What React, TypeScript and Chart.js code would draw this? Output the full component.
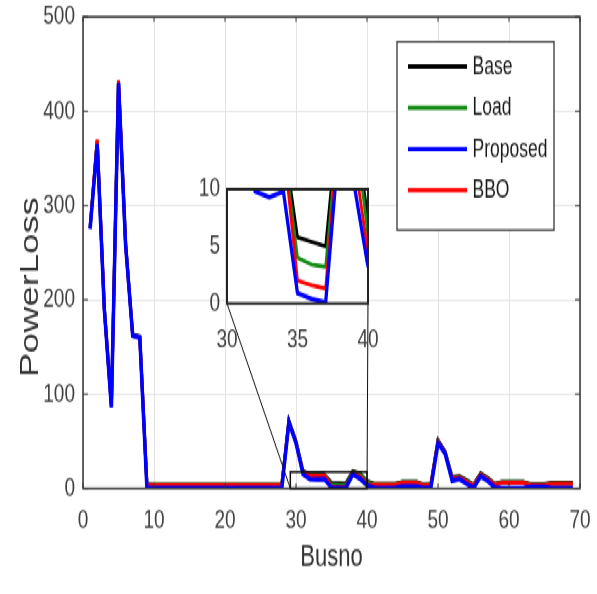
import { useEffect, useRef } from "react";
import { Chart, registerables } from "chart.js";

Chart.register(...registerables);
Chart.defaults.font.family = "'Liberation Sans', Arial, sans-serif";

// ---------------- data ----------------
const buses = [
  1, 2, 3, 4, 5, 6, 7, 8, 9, 10, 11, 12, 13, 14, 15, 16, 17, 18, 19, 20, 21, 22, 23,
  24, 25, 26, 27, 28, 29, 30, 31, 32, 33, 34, 35, 36, 37, 38, 39, 40, 41, 42, 43, 44,
  45, 46, 47, 48, 49, 50, 51, 52, 53, 54, 55, 56, 57, 58, 59, 60, 61, 62, 63, 64, 65,
  66, 67, 68, 69,
];

const baseLoss = [
  277, 369, 192, 88, 432, 260, 163, 161, 4.5,
  4, 4, 4, 4, 4, 4, 4, 4, 4, 4, 4, 4, 4, 4, 4, 4, 4, 4, 4,
  72, 50, 18, 15, 14.5, 14.5, 5.8, 5.4, 5.0, 18, 16, 7.5,
  5, 5, 5, 5, 7, 7, 7, 4, 5,
  51, 39, 12, 13, 9, 4, 16, 11, 5,
  7, 7, 7, 7, 4.5, 4.5, 4.5, 6, 6, 6, 6,
];

const loadLoss = [
  276, 368, 191, 87, 431, 259, 162, 160.5, 4,
  3.8, 3.8, 3.8, 3.8, 3.8, 3.8, 3.8, 3.8, 3.8, 3.8, 3.8, 3.8, 3.8, 3.8, 3.8, 3.8, 3.8, 3.8, 3.8,
  71, 49, 17, 14.5, 14, 14, 4.0, 3.4, 3.2, 17, 16, 6,
  4.5, 4.5, 4.5, 4.5, 6.5, 6.5, 6.5, 3.5, 4.5,
  50, 38, 11, 12, 8, 3.5, 15, 10, 4.5,
  6.5, 6.5, 6.5, 6.5, 4, 4, 4, 5.5, 5.5, 5.5, 5.5,
];

const proposedLoss = [
  275, 365, 190, 86, 430, 258, 162, 160, 0.5,
  0.3, 0.3, 0.3, 0.3, 0.3, 0.3, 0.3, 0.3, 0.3, 0.3, 0.3, 0.3, 0.3, 0.3, 0.3, 0.3, 0.3, 0.3, 0.3,
  70, 48, 15, 9.8, 9.3, 9.8, 0.9, 0.4, 0.1, 15, 10.5, 3.2,
  0.5, 0.3, 0.3, 0.5, 2, 2, 2, 0.2, 1,
  48, 37, 8, 10, 5, 0.3, 13, 8, 1,
  0.3, 0.3, 0.3, 0.3, 1.5, 1.5, 1.5, 0.3, 0.3, 0.3, 0.3,
];

const bboLoss = [
  276, 370, 191, 87, 433, 259, 162, 160, 3.5,
  3.5, 3.5, 3.5, 3.5, 3.5, 3.5, 3.5, 3.5, 3.5, 3.5, 3.5, 3.5, 3.5, 3.5, 3.5, 3.5, 3.5, 3.5, 3.5,
  70.5, 48.5, 16.5, 14, 13.5, 14, 2.0, 1.6, 1.3, 16.5, 13, 4.4,
  4, 4, 4, 4, 6, 6, 6, 3, 4,
  49.5, 37.5, 10.5, 11.5, 7.5, 3, 14.5, 9.5, 4,
  6, 6, 6, 6, 3.5, 3.5, 3.5, 5, 5, 5, 5,
];

const seriesLabels = ["Base", "Load", "Proposed", "BBO"];
const seriesValues = [baseLoss, loadLoss, proposedLoss, bboLoss];
const seriesColors = ["#000000", "#138a13", "#0000ff", "#ff0000"];
const seriesOrder = [3, 2, 0, 1];

const xTitle = "Busno";
const yTitle = "PowerLoss";
const mainXTicks = { min: 0, max: 70, step: 10 };
const mainYTicks = { min: 0, max: 500, step: 100 };
const insetXTicks = { min: 30, max: 40, step: 5 };
const insetYTicks = { min: 0, max: 10, step: 5 };
const zoomBox = { x0: 29.2, x1: 40, y0: 0, y1: 17.5 };

// ---------------- layout (internal, un-stretched px) ----------------
const W = 597;
const H = 594;
const IH = 424;
const SY = H / IH;
const INSET_LEFT = 170;
const INSET_TOP = 115;
const INSET_W = 210;
const INSET_H = 150;
const INSET_AREA = { left: 57, right: 198, top: 20, bottom: 101.6 };

function makeDatasets(width: number, clip?: number) {
  return seriesLabels.map((label, k) => ({
    label,
    data: buses.map((b, i) => ({ x: b, y: seriesValues[k][i] })),
    borderColor: seriesColors[k],
    backgroundColor: seriesColors[k],
    borderWidth: k === 2 ? width + 0.5 : width,
    pointRadius: 0,
    tension: 0,
    fill: false,
    order: seriesOrder[k],
    ...(clip !== undefined ? { clip } : {}),
  }));
}

const mainDecor = {
  id: "mainDecor",
  afterDraw(chart: any) {
    const ctx = chart.ctx as CanvasRenderingContext2D;
    const { left, right, top, bottom } = chart.chartArea;
    const xs = chart.scales.x;
    const ys = chart.scales.y;
    ctx.save();
    // axes box
    ctx.strokeStyle = "#333";
    ctx.lineWidth = 1.5;
    ctx.strokeRect(left, top, right - left, bottom - top);
    // inward ticks
    ctx.lineWidth = 1;
    ctx.beginPath();
    xs.ticks.forEach((t: any) => {
      const p = xs.getPixelForValue(t.value);
      ctx.moveTo(p, bottom);
      ctx.lineTo(p, bottom - 3.5);
      ctx.moveTo(p, top);
      ctx.lineTo(p, top + 3.5);
    });
    ys.ticks.forEach((t: any) => {
      const p = ys.getPixelForValue(t.value);
      ctx.moveTo(left, p);
      ctx.lineTo(left + 5, p);
      ctx.moveTo(right, p);
      ctx.lineTo(right - 5, p);
    });
    ctx.stroke();

    // zoom rectangle + connectors
    const zx0 = xs.getPixelForValue(zoomBox.x0);
    const zx1 = xs.getPixelForValue(zoomBox.x1);
    const zy0 = ys.getPixelForValue(zoomBox.y0);
    const zy1 = ys.getPixelForValue(zoomBox.y1);
    ctx.strokeStyle = "#111";
    ctx.lineWidth = 1.5;
    ctx.strokeRect(zx0, zy1, zx1 - zx0, zy0 - zy1);
    ctx.lineWidth = 1;
    ctx.beginPath();
    ctx.moveTo(INSET_LEFT + INSET_AREA.left, INSET_TOP + INSET_AREA.bottom);
    ctx.lineTo(zx0, zy0);
    ctx.moveTo(INSET_LEFT + INSET_AREA.right, INSET_TOP + INSET_AREA.bottom);
    ctx.lineTo(zx1, zy0);
    ctx.stroke();

    // legend
    const lg = { x: 397, y: 29.8, w: 157, h: 134.5 };
    ctx.fillStyle = "#fff";
    ctx.fillRect(lg.x, lg.y, lg.w, lg.h);
    ctx.strokeStyle = "#333";
    ctx.lineWidth = 1.3;
    ctx.strokeRect(lg.x, lg.y, lg.w, lg.h);
    ctx.font = "17.5px 'Liberation Sans', Arial, sans-serif";
    ctx.textAlign = "left";
    ctx.textBaseline = "middle";
    chart.data.datasets.forEach((ds: any, i: number) => {
      const y = 47.6 + i * 29.4;
      ctx.strokeStyle = ds.borderColor;
      ctx.lineWidth = 3;
      ctx.beginPath();
      ctx.moveTo(408, y);
      ctx.lineTo(467, y);
      ctx.stroke();
      ctx.fillStyle = "#1a1a1a";
      ctx.fillText(ds.label, 472.5, y + 0.5);
    });

    // y axis title
    ctx.translate(31, 205);
    ctx.rotate(-Math.PI / 2);
    ctx.fillStyle = "#333";
    ctx.font = "26px 'Liberation Sans', Arial, sans-serif";
    ctx.textAlign = "center";
    ctx.textBaseline = "middle";
    ctx.fillText(yTitle, 0, 0);
    ctx.restore();
  },
};

const insetDecor = {
  id: "insetDecor",
  beforeDraw(chart: any) {
    const ctx = chart.ctx as CanvasRenderingContext2D;
    const { left, right, top, bottom } = chart.chartArea;
    ctx.save();
    ctx.fillStyle = "#fff";
    ctx.fillRect(left, top, right - left, bottom - top);
    ctx.restore();
  },
  afterDraw(chart: any) {
    const ctx = chart.ctx as CanvasRenderingContext2D;
    const { left, right, top, bottom } = chart.chartArea;
    ctx.save();
    ctx.strokeStyle = "#222";
    ctx.lineWidth = 2;
    ctx.strokeRect(left, top, right - left, bottom - top);
    ctx.restore();
  },
};

function fixX(height: number) {
  return (s: any) => {
    s.height = height;
    s.paddingLeft = 0;
    s.paddingRight = 0;
  };
}
function fixY(width: number) {
  return (s: any) => {
    s.width = width;
    s.paddingTop = 0;
    s.paddingBottom = 0;
  };
}

function mainConfig(): any {
  return {
    type: "line",
    data: { datasets: makeDatasets(3) },
    options: {
      animation: false,
      responsive: false,
      events: [],
      layout: { padding: { left: 0, top: 12.1, right: 17, bottom: 0 } },
      plugins: { legend: { display: false }, tooltip: { enabled: false } },
      scales: {
        x: {
          type: "linear",
          min: mainXTicks.min,
          max: mainXTicks.max,
          ticks: { stepSize: mainXTicks.step, padding: 11.4, color: "#404040", font: { size: 19 } },
          grid: { color: "#e3e3e3", drawTicks: false },
          border: { display: false },
          title: {
            display: true,
            text: xTitle,
            color: "#333",
            font: { size: 22 },
            padding: { top: 0, bottom: 12.9 },
          },
          afterFit: fixX(IH - 348.6),
        },
        y: {
          type: "linear",
          min: mainYTicks.min,
          max: mainYTicks.max,
          ticks: { stepSize: mainYTicks.step, padding: 8, color: "#404040", font: { size: 19 } },
          grid: { color: "#e3e3e3", drawTicks: false },
          border: { display: false },
          afterFit: fixY(83),
        },
      },
    },
    plugins: [mainDecor],
  };
}

function insetConfig(): any {
  return {
    type: "line",
    data: { datasets: makeDatasets(2.8, 0) },
    options: {
      animation: false,
      responsive: false,
      events: [],
      layout: {
        padding: { left: 0, top: INSET_AREA.top, right: INSET_W - INSET_AREA.right, bottom: 0 },
      },
      plugins: { legend: { display: false }, tooltip: { enabled: false } },
      scales: {
        x: {
          type: "linear",
          min: insetXTicks.min,
          max: insetXTicks.max,
          ticks: { stepSize: insetXTicks.step, padding: 14.9, color: "#404040", font: { size: 19 } },
          grid: { display: false, drawTicks: false },
          border: { display: false },
          afterFit: fixX(INSET_H - INSET_AREA.bottom),
        },
        y: {
          type: "linear",
          min: insetYTicks.min,
          max: insetYTicks.max,
          ticks: { stepSize: insetYTicks.step, padding: 7, color: "#404040", font: { size: 19 } },
          grid: { display: false, drawTicks: false },
          border: { display: false },
          afterFit: fixY(INSET_AREA.left),
        },
      },
    },
    plugins: [insetDecor],
  };
}

export default function App() {
  const mainRef = useRef<HTMLCanvasElement>(null);
  const insetRef = useRef<HTMLCanvasElement>(null);

  useEffect(() => {
    const c1 = new Chart(mainRef.current as HTMLCanvasElement, mainConfig());
    const c2 = new Chart(insetRef.current as HTMLCanvasElement, insetConfig());
    return () => {
      c1.destroy();
      c2.destroy();
    };
  }, []);

  return (
    <div
      style={{
        position: "fixed",
        left: 0,
        top: 0,
        width: W,
        height: IH,
        transform: `scaleY(${SY})`,
        transformOrigin: "0 0",
        background: "#fff",
      }}
    >
      <canvas
        ref={mainRef}
        width={W}
        height={IH}
        style={{ position: "absolute", left: 0, top: 0, width: W, height: IH }}
      />
      <canvas
        ref={insetRef}
        width={INSET_W}
        height={INSET_H}
        style={{
          position: "absolute",
          left: INSET_LEFT,
          top: INSET_TOP,
          width: INSET_W,
          height: INSET_H,
        }}
      />
    </div>
  );
}
